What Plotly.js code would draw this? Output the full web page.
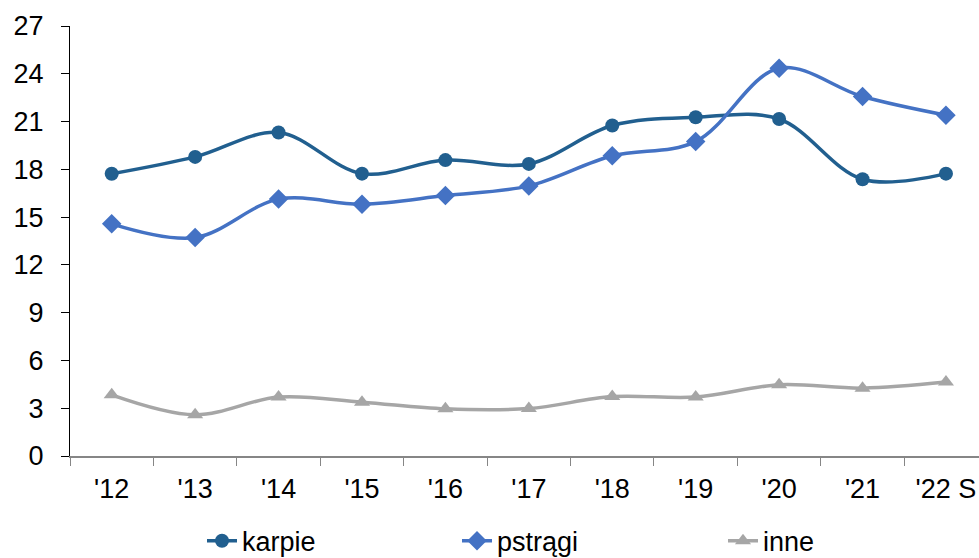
<!DOCTYPE html>
<html>
<head>
<meta charset="utf-8">
<script src="https://cdn.plot.ly/plotly-3.0.1.min.js"></script>
<style>html,body{margin:0;padding:0;background:#fff;}#chart{width:979px;height:558px;}</style>
</head>
<body>
<div id="chart"></div>
<script>
const categories = ["'12","'13","'14","'15","'16","'17","'18","'19","'20","'21","'22 S"];
const karpie  = [17.72, 18.78, 20.31, 17.73, 18.58, 18.34, 20.75, 21.27, 21.16, 17.38, 17.73];
const pstragi = [14.58, 13.72, 16.13, 15.81, 16.35, 16.96, 18.85, 19.74, 24.35, 22.57, 21.40];
const inne    = [3.84, 2.59, 3.70, 3.38, 2.96, 2.98, 3.73, 3.70, 4.47, 4.26, 4.64];
const yTicks  = [0, 3, 6, 9, 12, 15, 18, 21, 24, 27];

const FONT = 'Liberation Sans, Arial, sans-serif';
function series(name, y, color, symbol, size, legend) {
  return {
    type: 'scatter', mode: 'lines+markers', name: name, x: categories, y: y,
    line: {color: color, width: 3.5, shape: 'spline', smoothing: 1},
    marker: {color: color, symbol: symbol, size: size},
    legend: legend, cliponaxis: false
  };
}
const data = [
  series('karpie', karpie, '#215F8F', 'circle', 14, 'legend'),
  series('pstrągi', pstragi, '#4472C4', 'diamond', 15, 'legend2'),
  series('inne', inne, '#A6A6A6', 'triangle-up', 14, 'legend3')
];
const legBase = {orientation: 'h', yanchor: 'middle', y: -0.198, xanchor: 'left',
  font: {family: FONT, size: 27, color: '#000'}, bgcolor: 'rgba(0,0,0,0)', borderwidth: 0};
const layout = {
  width: 979, height: 558,
  margin: {l: 70, r: 0, t: 26, b: 102, autoexpand: false},
  paper_bgcolor: '#fff', plot_bgcolor: '#fff',
  font: {family: FONT, size: 27, color: '#000'},
  showlegend: true,
  legend: Object.assign({}, legBase, {x: (202 - 70) / 909}),
  legend2: Object.assign({}, legBase, {x: (457 - 70) / 909}),
  legend3: Object.assign({}, legBase, {x: (723 - 70) / 909}),
  xaxis: {
    type: 'category', range: [-0.5, 10.396], showgrid: false, zeroline: false,
    showline: true, linecolor: '#868686', linewidth: 1.5,
    ticks: 'outside', tickson: 'boundaries', ticklen: 8, tickcolor: '#868686', tickwidth: 1,
    tickfont: {family: FONT, size: 27, color: '#000'}, ticklabelstandoff: 8
  },
  yaxis: {
    range: [0, 27], tickvals: yTicks, showgrid: false, zeroline: false,
    showline: true, linecolor: '#000', linewidth: 1,
    ticks: 'outside', ticklen: 8, tickcolor: '#000', tickwidth: 1,
    tickfont: {family: FONT, size: 27, color: '#000'}, ticklabelstandoff: 12
  }
};
Plotly.newPlot('chart', data, layout, {displayModeBar: false, staticPlot: true});
</script>
</body>
</html>
